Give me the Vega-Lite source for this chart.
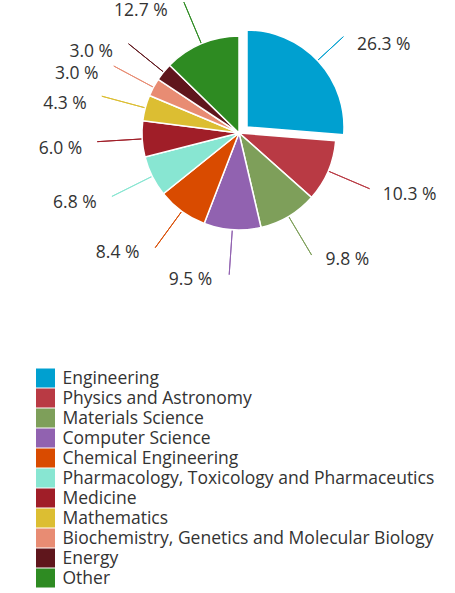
{
  "$schema": "https://vega.github.io/schema/vega-lite/v6.json",
  "padding": {"top": 0, "left": 36, "right": 13, "bottom": 4},
  "background": "white",
  "bounds": "flush",
  "spacing": 102,
  "config": {
    "view": {"stroke": null},
    "font": "Open Sans"
  },
  "data": {
    "values": [
      {"subject": "Engineering", "pct": 26.3},
      {"subject": "Physics and Astronomy", "pct": 10.3},
      {"subject": "Materials Science", "pct": 9.8},
      {"subject": "Computer Science", "pct": 9.5},
      {"subject": "Chemical Engineering", "pct": 8.4},
      {"subject": "Pharmacology, Toxicology and Pharmaceutics", "pct": 6.8},
      {"subject": "Medicine", "pct": 6.0},
      {"subject": "Mathematics", "pct": 4.3},
      {"subject": "Biochemistry, Genetics and Molecular Biology", "pct": 3.0},
      {"subject": "Energy", "pct": 3.0},
      {"subject": "Other", "pct": 12.7}
    ]
  },
  "transform": [{"window": [{"op": "row_number", "as": "rank"}]}],
  "vconcat": [
    {
      "width": 406,
      "height": 266,
      "encoding": {
        "theta": {"field": "pct", "type": "quantitative", "stack": true},
        "order": {"field": "rank", "type": "quantitative"}
      },
      "layer": [
        {
          "mark": {"type": "arc", "fill": null, "radius": 142, "radius2": 90, "padAngle": 3, "strokeWidth": 1},
          "encoding": {
            "stroke": {
              "field": "subject",
              "type": "nominal",
              "scale": {
                "domain": ["Engineering", "Physics and Astronomy", "Materials Science", "Computer Science", "Chemical Engineering", "Pharmacology, Toxicology and Pharmaceutics", "Medicine", "Mathematics", "Biochemistry, Genetics and Molecular Biology", "Energy", "Other"],
                "range": ["#00a0d0", "#b93a44", "#7e9f5a", "#9162b0", "#d94b00", "#88e6d2", "#a01e28", "#dcbe32", "#e88c73", "#5f161c", "#2e8b22"]
              },
              "legend": null
            }
          }
        },
        {
          "mark": {"type": "arc", "radius": 97, "stroke": "white", "strokeWidth": 1.5},
          "encoding": {
            "color": {
              "field": "subject",
              "type": "nominal",
              "scale": {
                "domain": ["Engineering", "Physics and Astronomy", "Materials Science", "Computer Science", "Chemical Engineering", "Pharmacology, Toxicology and Pharmaceutics", "Medicine", "Mathematics", "Biochemistry, Genetics and Molecular Biology", "Energy", "Other"],
                "range": ["#00a0d0", "#b93a44", "#7e9f5a", "#9162b0", "#d94b00", "#88e6d2", "#a01e28", "#dcbe32", "#e88c73", "#5f161c", "#2e8b22"]
              },
              "legend": null
            },
            "fillOpacity": {"condition": {"test": "datum.subject === 'Engineering'", "value": 0}, "value": 1},
            "strokeOpacity": {"condition": {"test": "datum.subject === 'Engineering'", "value": 0}, "value": 1}
          }
        },
        {
          "transform": [{"filter": "datum.subject === 'Engineering'"}],
          "mark": {"type": "arc", "radius": 97, "stroke": "white", "strokeWidth": 1.5, "xOffset": 8, "yOffset": -6},
          "encoding": {
            "color": {"field": "subject", "type": "nominal", "legend": null}
          }
        },
        {
          "mark": {
            "type": "text",
            "radius": 140,
            "fontSize": 17.5,
            "font": "Open Sans",
            "color": "#333333",
            "baseline": "middle",
            "dy": 7,
            "dx": {"expr": "datum.rank <= 3 ? 15 : -17"},
            "align": {"expr": "datum.rank <= 3 ? 'left' : 'right'"},
            "text": {"expr": "format(datum.pct, '.1f') + ' %'"}
          },
          "encoding": {
            "detail": {"field": "subject", "type": "nominal"}
          }
        }
      ]
    },
    {
      "width": 19,
      "height": 220,
      "mark": {"type": "square", "size": 361, "opacity": 1, "filled": true},
      "encoding": {
        "y": {
          "field": "subject",
          "type": "nominal",
          "title": null,
          "scale": {
            "domain": ["Engineering", "Physics and Astronomy", "Materials Science", "Computer Science", "Chemical Engineering", "Pharmacology, Toxicology and Pharmaceutics", "Medicine", "Mathematics", "Biochemistry, Genetics and Molecular Biology", "Energy", "Other"],
            "paddingInner": 0,
            "paddingOuter": 0
          },
          "axis": {
            "orient": "right",
            "ticks": false,
            "domain": false,
            "grid": false,
            "labelFont": "Open Sans",
            "labelFontSize": 17.5,
            "labelColor": "#333333",
            "labelPadding": 7,
            "labelLimit": 386
          }
        },
        "color": {"field": "subject", "type": "nominal", "legend": null}
      }
    }
  ]
}
